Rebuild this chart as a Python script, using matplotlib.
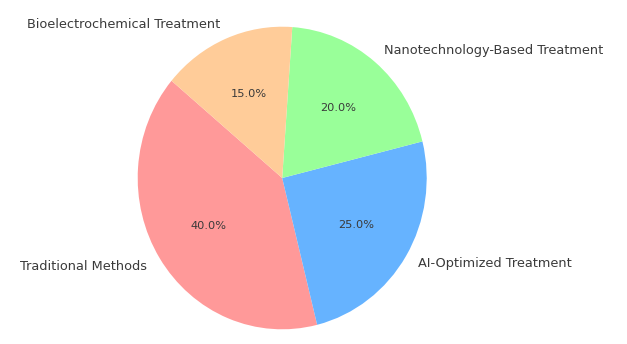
import numpy as np
import matplotlib
matplotlib.use('Agg')
import matplotlib.pyplot as plt


methods = ['Traditional Methods', 'AI-Optimized Treatment',
           'Nanotechnology-Based Treatment', 'Bioelectrochemical Treatment']
shares = [40, 25, 20, 15]
colors = ['#ff9999', '#66b3ff', '#99ff99', '#ffcc99']

fig = plt.figure(figsize=(6.27, 3.44), dpi=100)
ax = fig.add_axes([0, 0, 1, 1])
wedges, texts, autotexts = ax.pie(shares, labels=methods, colors=colors,
                                  autopct='%1.1f%%', startangle=140,
                                  textprops={'fontsize': 9.3, 'color': '#3a3a3a'})
for t in autotexts:
    t.set_fontsize(8.2)

# the reference pie is slightly squeezed sideways: centre (282, 178) px,
# radius ~144.5 px across and ~151 px up/down
cx, cy = 282.2, 178
rx, ry = 144.5, 151.3
ax.set_aspect('auto')
ax.set_xlim(-cx / rx, (627 - cx) / rx)
ax.set_ylim(-(344 - cy) / ry, cy / ry)
ax.axis('off')

fig.savefig('out.png', dpi=100)
